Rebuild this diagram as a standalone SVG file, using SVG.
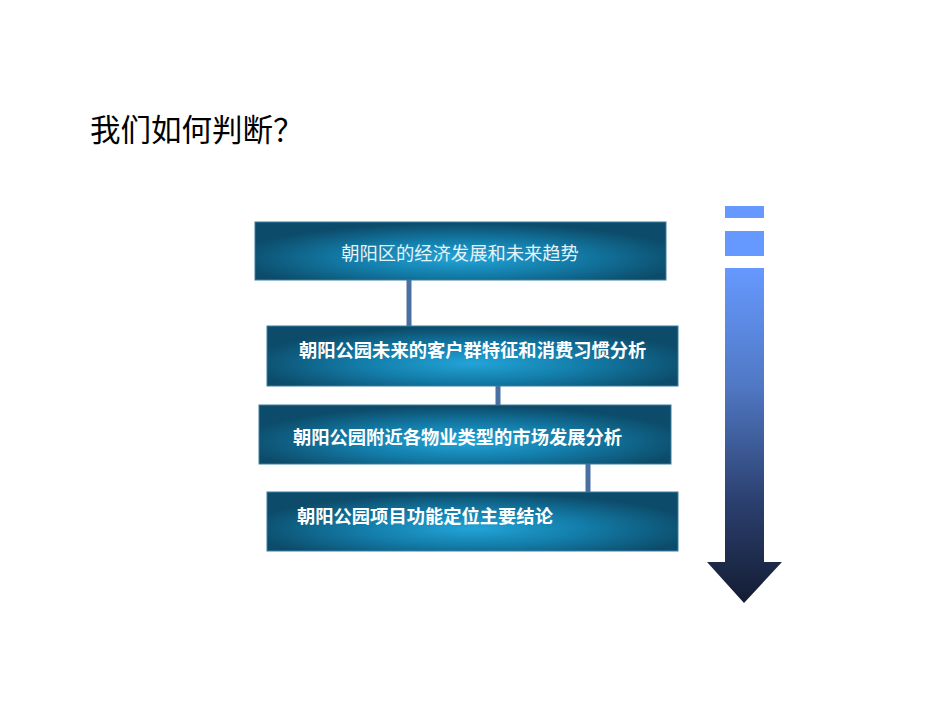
<svg xmlns="http://www.w3.org/2000/svg" width="950" height="713" viewBox="0 0 950 713">
<style>
.box{fill:url(#boxg);stroke:#3a7ea0;stroke-width:1}
.t{font-family:"Liberation Sans","Noto Sans CJK SC",sans-serif;font-size:18.3px;fill:#ffffff;font-weight:bold}
.t1{font-family:"Liberation Serif","Noto Sans CJK SC",serif;font-size:18.3px;fill:#e6f2f8;font-weight:normal}
.title{font-family:"Noto Sans CJK SC",sans-serif;font-size:30.5px;fill:#000000}
.conn{stroke:#4a6fa3;stroke-width:5;fill:none}
</style>
<defs>
<radialGradient id="boxg" cx="0.5" cy="0.62" r="0.55" gradientTransform="translate(0.5 0.62) scale(1 1.1) translate(-0.5 -0.62)">
<stop offset="0" stop-color="#22a4d8"/>
<stop offset="0.5" stop-color="#137ca8"/>
<stop offset="1" stop-color="#0c4b69"/>
</radialGradient>
<linearGradient id="arrg" x1="0" y1="268" x2="0" y2="603" gradientUnits="userSpaceOnUse">
<stop offset="0" stop-color="#6699ff"/>
<stop offset="0.35" stop-color="#5078c4"/>
<stop offset="0.7" stop-color="#2b3f6e"/>
<stop offset="1" stop-color="#141c33"/>
</linearGradient>
</defs>
<rect width="950" height="713" fill="#ffffff"/>
<text class="title" x="90" y="141">我们如何判断？</text>
<g id="connectors">
<line class="conn" x1="409" y1="280" x2="409" y2="326"/>
<line class="conn" x1="498" y1="386" x2="498" y2="405"/>
<line class="conn" x1="588" y1="464" x2="588" y2="492"/>
</g>
<g id="node1">
<rect class="box" x="255" y="222" width="411" height="58"/>
<text class="t1" x="460" y="260" text-anchor="middle">朝阳区的经济发展和未来趋势</text>
</g>
<g id="node2">
<rect class="box" x="267" y="326" width="411" height="60"/>
<text class="t" x="299" y="357">朝阳公园未来的客户群特征和消费习惯分析</text>
</g>
<g id="node3">
<rect class="box" x="259" y="405" width="412" height="59"/>
<text class="t" x="293" y="444">朝阳公园附近各物业类型的市场发展分析</text>
</g>
<g id="node4">
<rect class="box" x="267" y="492" width="411" height="59"/>
<text class="t" x="297" y="523">朝阳公园项目功能定位主要结论</text>
</g>
<g id="arrow">
<rect x="725" y="206" width="39" height="12" fill="#6699ff"/>
<rect x="725" y="231" width="39" height="25" fill="#6699ff"/>
<path d="M725 268 H764 V562 H782 L744 603 L707 562 H725 Z" fill="url(#arrg)"/>
</g>
</svg>
